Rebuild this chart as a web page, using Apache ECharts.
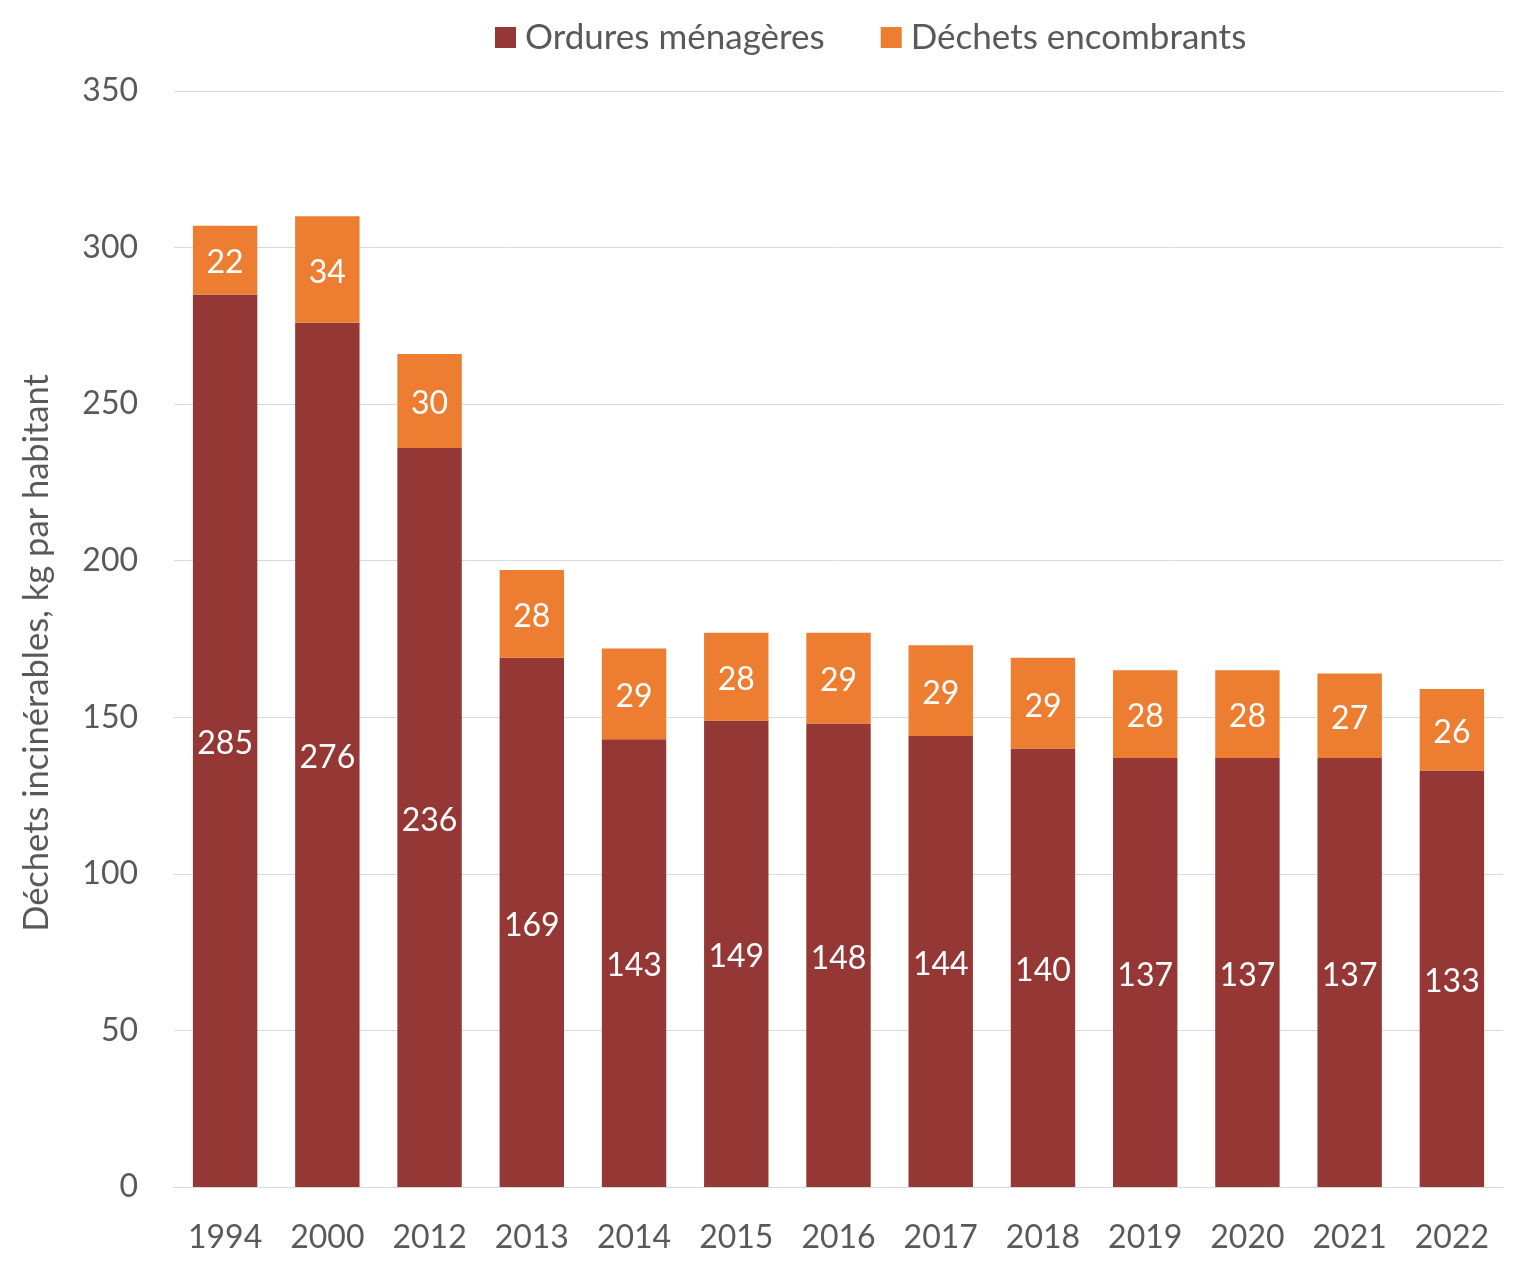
<!DOCTYPE html>
<html><head><meta charset="utf-8">
<script src="https://cdn.jsdelivr.net/npm/echarts@6/dist/echarts.min.js"></script>
<style>html,body{margin:0;padding:0;background:#fff}#c{width:1518px;height:1265px}</style>
</head><body><div id="c"></div>
<script>
const years = ['1994','2000','2012','2013','2014','2015','2016','2017','2018','2019','2020','2021','2022'];
const ordures = [285,276,236,169,143,149,148,144,140,137,137,137,133];
const encombrants = [22,34,30,28,29,28,29,29,29,28,28,27,26];
const yTicks = [0,50,100,150,200,250,300,350];

const FONT = 'Lato';
const chart = echarts.init(document.getElementById('c'));
const lbl = {show:true, position:'inside', offset:[0,3], color:'#fff', fontSize:32, fontFamily:FONT};
chart.setOption({
  animation:false,
  textStyle:{fontFamily:FONT},
  legend:{top:15, left:490, itemWidth:21, itemHeight:21, itemGap:56, icon:'rect',
    textStyle:{fontSize:35, color:'#595959', fontFamily:FONT, padding:[0,0,0,4]}},
  grid:{left:174, right:15, top:91, bottom:78},
  xAxis:{type:'category', data:years,
    axisLine:{lineStyle:{color:'#d9d9d9', width:1}}, axisTick:{show:false},
    axisLabel:{fontSize:32, color:'#595959', margin:35, fontFamily:FONT}},
  yAxis:{type:'value', min:yTicks[0], max:yTicks[yTicks.length-1], interval:50,
    name:'Déchets incinérables, kg par habitant', nameLocation:'middle', nameGap:120,
    nameTextStyle:{fontSize:34.5, color:'#595959', fontFamily:FONT, padding:[0,0,0,-28]},
    axisLine:{show:false}, axisTick:{show:false},
    splitLine:{lineStyle:{color:'#d9d9d9', width:1}},
    axisLabel:{fontSize:32, color:'#595959', margin:36, fontFamily:FONT, padding:[4,0,0,0]}},
  series:[
    {name:'Ordures ménagères', type:'bar', stack:'t', data:ordures, barCategoryGap:'37%',
     itemStyle:{color:'#953735'}, label:lbl},
    {name:'Déchets encombrants', type:'bar', stack:'t', data:encombrants,
     itemStyle:{color:'#ED7D31'}, label:lbl}
  ]
});
</script></body></html>
